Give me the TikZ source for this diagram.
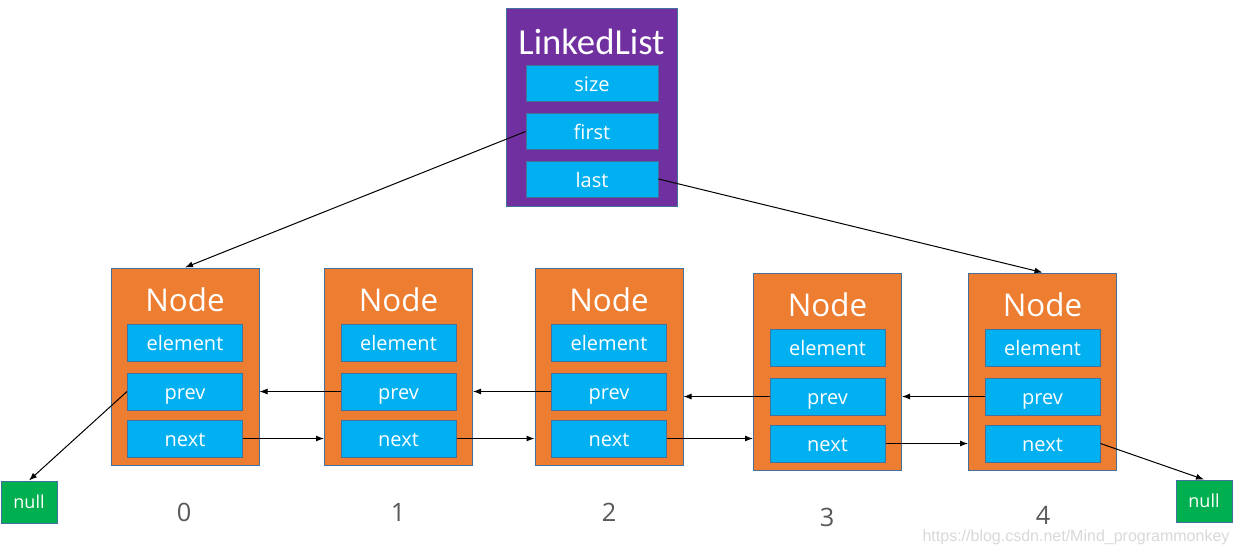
\documentclass[tikz,border=0pt]{standalone}
\usepackage{fontspec}
\setmainfont{Open Sans}
\newfontfamily\calfont{Carlito}
\newfontfamily\urlfont{Liberation Sans}
\usetikzlibrary{arrows.meta}
\definecolor{llpurple}{HTML}{7030A0}
\definecolor{llblue}{HTML}{00B0F0}
\definecolor{llorange}{HTML}{ED7D31}
\definecolor{llgreen}{HTML}{00B050}
\definecolor{llborder}{HTML}{41719C}
\definecolor{llgray}{HTML}{595959}
\definecolor{urlgray}{HTML}{D9D9D9}
\tikzset{
  outerbox/.style={draw=llborder, line width=0.75pt, fill=llorange, minimum width=111pt, minimum height=147.75pt, inner sep=0pt},
  listbox/.style={draw=llborder, line width=0.75pt, fill=llpurple, minimum width=128.25pt, minimum height=148.5pt, inner sep=0pt},
  field/.style={draw=llborder, line width=0.75pt, fill=llblue, text=white, minimum width=86.25pt, minimum height=27.75pt, inner sep=0pt, text height=15pt, text depth=3pt, font=\fontsize{15pt}{18pt}\selectfont},
  lfield/.style={draw=llborder, line width=0.75pt, fill=llblue, text=white, minimum width=99pt, minimum height=27pt, inner sep=0pt, text height=15pt, text depth=3pt, font=\fontsize{15pt}{18pt}\selectfont},
  nodetitle/.style={text=white, inner sep=0pt, font=\fontsize{23.5pt}{28pt}\selectfont},
  listtitle/.style={text=white, inner sep=0pt, font=\calfont\fontsize{27.5pt}{32pt}\selectfont},
  nullbox/.style={draw=llborder, line width=0.75pt, fill=llgreen, text=white, minimum width=42pt, minimum height=31.5pt, inner sep=0pt, text height=13pt, text depth=3pt, font=\fontsize{13.5pt}{16pt}\selectfont},
  idx/.style={text=llgray, inner sep=0pt, font=\fontsize{19pt}{22pt}\selectfont},
  ptr/.style={draw=black, line width=0.75pt, -{Latex[length=6pt,width=4.5pt]}},
}
\newcommand\mkListNode[3]{%
  \node[outerbox] (#1) at (#2,#3) {};
  \node[nodetitle] (#1t) at (#2,#3-66.5) {Node};
  \node[field] (#1e) at (#2,#3-24) {element};
  \node[field] (#1p) at (#2,#3+25) {prev};
  \node[field] (#1n) at (#2,#3+72) {next};
}
\begin{document}
\begin{tikzpicture}[x=0.75pt,y=-0.75pt]
\path[use as bounding box, fill=white] (0,0) rectangle (1238,550);

% LinkedList
\node[listbox] (ll) at (591.5,107) {};
\node[listtitle] (llt) at (591.5,42) {LinkedList};
\node[lfield] (size) at (592,83) {size};
\node[lfield] (first) at (592,131.5) {first};
\node[lfield] (last) at (592,179) {last};

% Nodes
\mkListNode{a}{185}{366.5}
\mkListNode{b}{398.5}{366.5}
\mkListNode{c}{609}{366.5}
\mkListNode{d}{827.5}{371.5}
\mkListNode{e}{1042.5}{371.5}

% null boxes
\node[nullbox] (nullL) at (29,502) {null};
\node[nullbox] (nullR) at (1204,501) {null};

% indices
\node[idx] (i0) at (184,512) {0};
\node[idx] (i1) at (398,512) {1};
\node[idx] (i2) at (609,512) {2};
\node[idx] (i3) at (827,517) {3};
\node[idx] (i4) at (1043,515) {4};

% url
\node[text=urlgray, inner sep=0pt, font=\urlfont\fontsize{12pt}{14pt}\selectfont] (url) at (1076,537) {https://blog.csdn.net/Mind\_programmonkey};

% pointers
\draw[ptr] (first.west) -- (a.north);
\draw[ptr] (last.east) -- (e.north);
\draw[ptr] (ap.west) -- (nullL.north);
\draw[ptr] (bp.west) -- (a.east |- bp.west);
\draw[ptr] (cp.west) -- (b.east |- cp.west);
\draw[ptr] (dp.west) -- (c.east |- dp.west);
\draw[ptr] (ep.west) -- (d.east |- ep.west);
\draw[ptr] (an.east) -- (b.west |- an.east);
\draw[ptr] (bn.east) -- (c.west |- bn.east);
\draw[ptr] (cn.east) -- (d.west |- cn.east);
\draw[ptr] (dn.east) -- (e.west |- dn.east);
\draw[ptr] (en.east) -- (nullR.north);
\end{tikzpicture}
\end{document}
